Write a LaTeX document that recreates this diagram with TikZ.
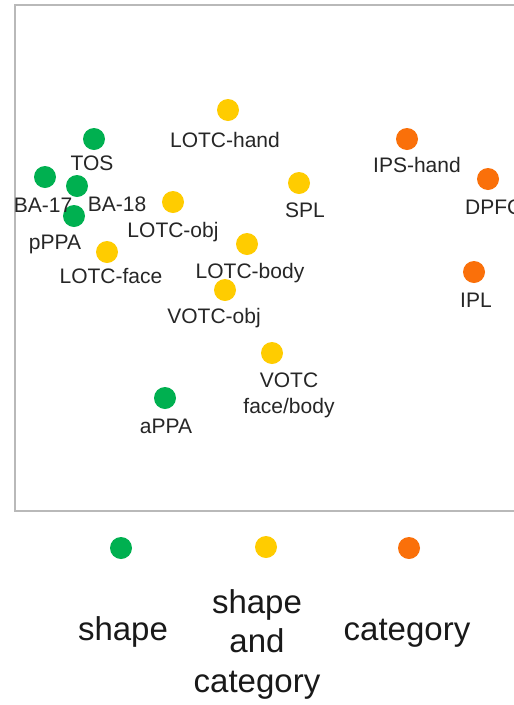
\documentclass[tikz,border=0pt]{standalone}
\usepackage{fontspec}
\setmainfont{Liberation Sans}
\definecolor{cgreen}{RGB}{0,176,80}
\definecolor{cyellow}{RGB}{255,204,0}
\definecolor{corange}{RGB}{250,112,10}
\definecolor{cframe}{RGB}{185,185,185}
\begin{document}
\begin{tikzpicture}[x=1pt,y=-1pt,
  dot/.style={circle,inner sep=0pt,minimum size=22pt},
  gdot/.style={dot,fill=cgreen},
  ydot/.style={dot,fill=cyellow},
  odot/.style={dot,fill=corange},
  lab/.style={inner sep=0pt,anchor=base,font=\fontsize{21}{26}\selectfont,text=black!85},
  leg/.style={inner sep=0pt,anchor=base,font=\fontsize{33}{39.5}\selectfont,text=black!90,align=center}]
\useasboundingbox (0,0) rectangle (514,705);
\clip (0,0) rectangle (514,705);
\fill[white] (0,0) rectangle (514,705);
\draw[cframe,line width=2pt] (15,5) rectangle (540,511);
% dots
\node[ydot] (lotchand) at (228,110) {};
\node[gdot] (tos) at (94,139) {};
\node[gdot] (ba17) at (45,177) {};
\node[gdot] (ba18) at (77,186) {};
\node[gdot] (pppa) at (74,216) {};
\node[ydot] (lotcface) at (107,252) {};
\node[ydot] (lotcobj) at (173,202) {};
\node[ydot] (spl) at (299,183) {};
\node[odot] (ipshand) at (407,139) {};
\node[odot] (dpfc) at (488,179) {};
\node[ydot] (lotcbody) at (247,244) {};
\node[ydot] (votcobj) at (225,290) {};
\node[odot] (ipl) at (474,272) {};
\node[ydot] (votcfb) at (272,353) {};
\node[gdot] (appa) at (165,398) {};
% labels
\node[lab] (ltos) at (92,170) {TOS};
\node[lab] (lba17) at (43,212) {BA-17};
\node[lab] (lba18) at (117,211) {BA-18};
\node[lab] (lpppa) at (55,249) {pPPA};
\node[lab] (llotcface) at (111,283) {LOTC-face};
\node[lab] (llotchand) at (225,147) {LOTC-hand};
\node[lab] (llotcobj) at (173,237) {LOTC-obj};
\node[lab] (lspl) at (305,217) {SPL};
\node[lab] (lipshand) at (417,172) {IPS-hand};
\node[lab,anchor=base west] (ldpfc) at (465,214) {DPFC};
\node[lab] (llotcbody) at (250,278) {LOTC-body};
\node[lab] (lvotcobj) at (214,323) {VOTC-obj};
\node[lab] (lipl) at (476,307) {IPL};
\node[lab,align=center] (lvotcfb) at (289,413) {VOTC\\face/body};
\node[lab] (lappa) at (166,433) {aPPA};
% legend
\node[gdot] (kg) at (121,548) {};
\node[ydot] (ky) at (266,547) {};
\node[odot] (ko) at (409,548) {};
\node[leg] (kgl) at (123,640) {shape};
\node[leg] (kyl) at (257,692) {shape\\and\\category};
\node[leg] (kol) at (407,640) {category};
\end{tikzpicture}
\end{document}
